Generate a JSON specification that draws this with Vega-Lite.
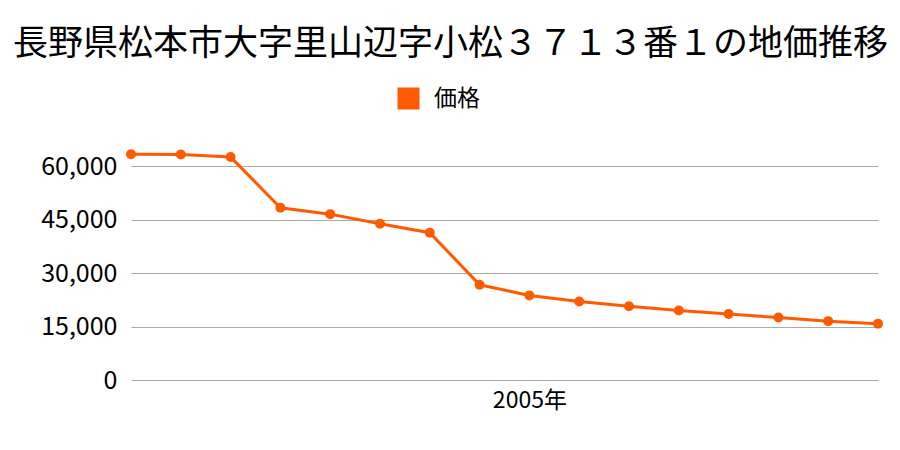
{
  "$schema": "https://vega.github.io/schema/vega-lite/v6.json",
  "width": 747,
  "height": 214,
  "autosize": {"type": "none"},
  "padding": {"left": 131, "top": 166, "right": 22, "bottom": 70},
  "background": "white",
  "view": {"stroke": null},
  "title": {
    "text": "長野県松本市大字里山辺字小松３７１３番１の地価推移",
    "font": "Noto Sans CJK JP",
    "fontSize": 35,
    "fontWeight": "normal",
    "color": "#000000",
    "anchor": "middle",
    "dx": -54,
    "offset": 25
  },
  "data": {
    "values": [
      {"year": "1997", "price": 63300, "series": "価格"},
      {"year": "1998", "price": 63200, "series": "価格"},
      {"year": "1999", "price": 62500, "series": "価格"},
      {"year": "2000", "price": 48300, "series": "価格"},
      {"year": "2001", "price": 46500, "series": "価格"},
      {"year": "2002", "price": 43800, "series": "価格"},
      {"year": "2003", "price": 41300, "series": "価格"},
      {"year": "2004", "price": 26700, "series": "価格"},
      {"year": "2005", "price": 23700, "series": "価格"},
      {"year": "2006", "price": 22000, "series": "価格"},
      {"year": "2007", "price": 20700, "series": "価格"},
      {"year": "2008", "price": 19500, "series": "価格"},
      {"year": "2009", "price": 18500, "series": "価格"},
      {"year": "2010", "price": 17500, "series": "価格"},
      {"year": "2011", "price": 16500, "series": "価格"},
      {"year": "2012", "price": 15800, "series": "価格"}
    ]
  },
  "encoding": {
    "x": {
      "field": "year",
      "type": "ordinal",
      "scale": {"type": "point", "padding": 0},
      "axis": {
        "title": null,
        "labelAngle": 0,
        "domain": false,
        "ticks": false,
        "grid": false,
        "labelFont": "Noto Sans CJK JP",
        "labelFontSize": 23,
        "labelColor": "#000000",
        "labelPadding": 9,
        "labelExpr": "datum.value == '2005' ? '2005年' : ''"
      }
    },
    "y": {
      "field": "price",
      "type": "quantitative",
      "scale": {"domain": [0, 60000], "nice": false},
      "axis": {
        "title": null,
        "values": [0, 15000, 30000, 45000, 60000],
        "format": ",.0f",
        "domain": false,
        "ticks": false,
        "gridColor": "#aaaaaa",
        "gridWidth": 1,
        "labelFont": "Noto Sans CJK JP",
        "labelFontSize": 25,
        "labelColor": "#000000",
        "labelPadding": 14
      }
    },
    "color": {
      "field": "series",
      "type": "nominal",
      "scale": {"range": ["#FF5A00"]},
      "legend": {
        "title": null,
        "orient": "none",
        "legendX": 266,
        "legendY": -79,
        "symbolType": "square",
        "symbolSize": 484,
        "symbolStrokeWidth": 0,
        "symbolOpacity": 1,
        "labelFont": "Noto Sans CJK JP",
        "labelFontSize": 23,
        "labelColor": "#000000",
        "labelOffset": 14
      }
    }
  },
  "layer": [
    {"mark": {"type": "line", "strokeWidth": 3, "clip": false}},
    {"mark": {"type": "point", "filled": true, "size": 100, "opacity": 1, "clip": false}}
  ]
}
